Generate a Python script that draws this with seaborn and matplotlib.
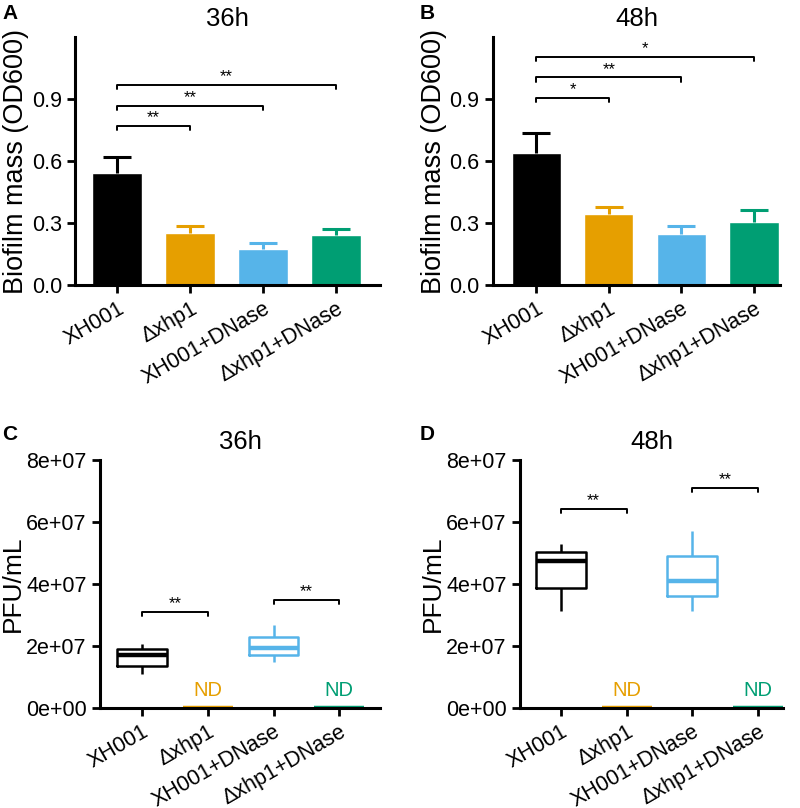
import numpy as np
import pandas as pd
import matplotlib
matplotlib.use("Agg")
import matplotlib.pyplot as plt
import seaborn as sns

# groups and colours
groups = ["XH001", "\u0394xhp1", "XH001+DNase", "\u0394xhp1+DNase"]
colors = ["#000000", "#E69F00", "#56B4E9", "#009E73"]

# biofilm mass (OD600), mean and upper error
mass_36 = [0.542, 0.253, 0.173, 0.242]
err_36 = [0.077, 0.032, 0.032, 0.029]
mass_48 = [0.642, 0.343, 0.250, 0.306]
err_48 = [0.095, 0.033, 0.035, 0.057]

# brackets: (target group index, height, label)
brk_36 = [(1, 0.77, "**"), (2, 0.866, "**"), (3, 0.968, "**")]
brk_48 = [(1, 0.908, "*"), (2, 1.005, "**"), (3, 1.105, "*")]

pfu_36 = {
    "XH001": [1.10e7, 1.36e7, 1.71e7, 1.89e7, 2.06e7],
    "\u0394xhp1": [0, 0, 0, 0, 0],
    "XH001+DNase": [1.49e7, 1.69e7, 1.93e7, 2.28e7, 2.67e7],
    "\u0394xhp1+DNase": [0, 0, 0, 0, 0],
}
pfu_48 = {
    "XH001": [3.11e7, 3.88e7, 4.72e7, 5.01e7, 5.29e7],
    "\u0394xhp1": [0, 0, 0, 0, 0],
    "XH001+DNase": [3.11e7, 3.59e7, 4.10e7, 4.90e7, 5.69e7],
    "\u0394xhp1+DNase": [0, 0, 0, 0, 0],
}
pbrk_36 = [(0, 1, 3.09e7), (2, 3, 3.48e7)]
pbrk_48 = [(0, 1, 6.41e7), (2, 3, 7.09e7)]

od_ticks = [0.0, 0.3, 0.6, 0.9]
od_labels = ["0.0", "0.3", "0.6", "0.9"]
pfu_ticks = [0, 2e7, 4e7, 6e7, 8e7]
pfu_labels = ["0e+00", "2e+07", "4e+07", "6e+07", "8e+07"]

sns.set_style("ticks")
plt.rcParams["font.family"] = ["Liberation Sans", "DejaVu Sans"]
plt.rcParams.update({"text.color": "black", "axes.labelcolor": "black",
                     "xtick.color": "black", "ytick.color": "black",
                     "axes.edgecolor": "black"})

fig = plt.figure(figsize=(8, 8.08), dpi=100)
axA = fig.add_axes([0.094, 0.647, 0.381, 0.307])
axB = fig.add_axes([0.616, 0.647, 0.359, 0.307])
axC = fig.add_axes([0.125, 0.124, 0.350, 0.307])
axD = fig.add_axes([0.650, 0.124, 0.329, 0.307])


def style_axis(ax):
    sns.despine(ax=ax)
    for s in ["left", "bottom"]:
        ax.spines[s].set_linewidth(2.2)
        ax.spines[s].set_color("black")
    ax.tick_params(width=2, length=6, direction="out", colors="black")
    ax.tick_params(axis="y", labelsize=15.5)
    ax.set_xlabel("")
    for lab in ax.get_xticklabels():
        lab.set_rotation(30)
        lab.set_ha("right")
        lab.set_rotation_mode("anchor")
        lab.set_fontsize(15.5)


def bar_panel(ax, vals, errs, brks, title, xlim):
    sns.barplot(x=groups, y=vals, hue=groups, palette=colors, legend=False,
                width=0.68, saturation=1, errorbar=None, ax=ax)
    for i, (v, e) in enumerate(zip(vals, errs)):
        eb = ax.errorbar(i, v, yerr=[[0], [e]], color=colors[i], capsize=10,
                         elinewidth=2.2, capthick=2.2)
        eb[1][0].set_visible(False)  # no cap at the bar top
    for j, h, lab in brks:
        ax.plot([0, 0, j, j], [h - 0.02, h, h, h - 0.02], color="black", lw=1.4)
        ax.text(j / 2, h + 0.004, lab, ha="center", va="bottom", fontsize=12)
    ax.set_ylim(0, 1.2)
    ax.set_xlim(*xlim)
    ax.set_yticks(od_ticks)
    ax.set_yticklabels(od_labels)
    ax.set_ylabel("Biofilm mass (OD600)", fontsize=19.5, labelpad=2)
    ax.set_title(title, fontsize=18.5, pad=8)
    style_axis(ax)


def box_panel(ax, data, brks, title, xlim):
    df = pd.DataFrame([(g, v) for g in groups for v in data[g]], columns=["group", "pfu"])
    sns.boxplot(data=df, x="group", y="pfu", hue="group", palette=colors, legend=False,
                order=groups, fill=False, whis=np.inf, width=0.76, linewidth=1.8,
                saturation=1, showcaps=False, medianprops={"linewidth": 3.2}, ax=ax)
    for a, b, h in brks:
        ax.plot([a, a, b, b], [h - 0.12e7, h, h, h - 0.12e7], color="black", lw=1.4)
        ax.text((a + b) / 2, h + 0.03e7, "**", ha="center", va="bottom", fontsize=12)
    for i in [1, 3]:
        ax.text(i, 0.55e7, "ND", color=colors[i], ha="center", va="center", fontsize=14.5)
    ax.set_ylim(0, 8e7)
    ax.set_xlim(*xlim)
    ax.set_yticks(pfu_ticks)
    ax.set_yticklabels(pfu_labels)
    ax.set_ylabel("PFU/mL", fontsize=19, labelpad=1)
    ax.set_title(title, fontsize=18.5, pad=8)
    style_axis(ax)


bar_panel(axA, mass_36, err_36, brk_36, "36h", (-0.575, 3.6))
bar_panel(axB, mass_48, err_48, brk_48, "48h", (-0.6, 3.36))
box_panel(axC, pfu_36, pbrk_36, "36h", (-0.64, 3.62))
box_panel(axD, pfu_48, pbrk_48, "48h", (-0.62, 3.38))

for lab, x, y in [("A", 0.003, 0.995), ("B", 0.525, 0.995), ("C", 0.003, 0.474), ("D", 0.525, 0.474)]:
    fig.text(x, y, lab, fontsize=15, fontweight="bold", va="top")

fig.savefig("out.png", dpi=100)
